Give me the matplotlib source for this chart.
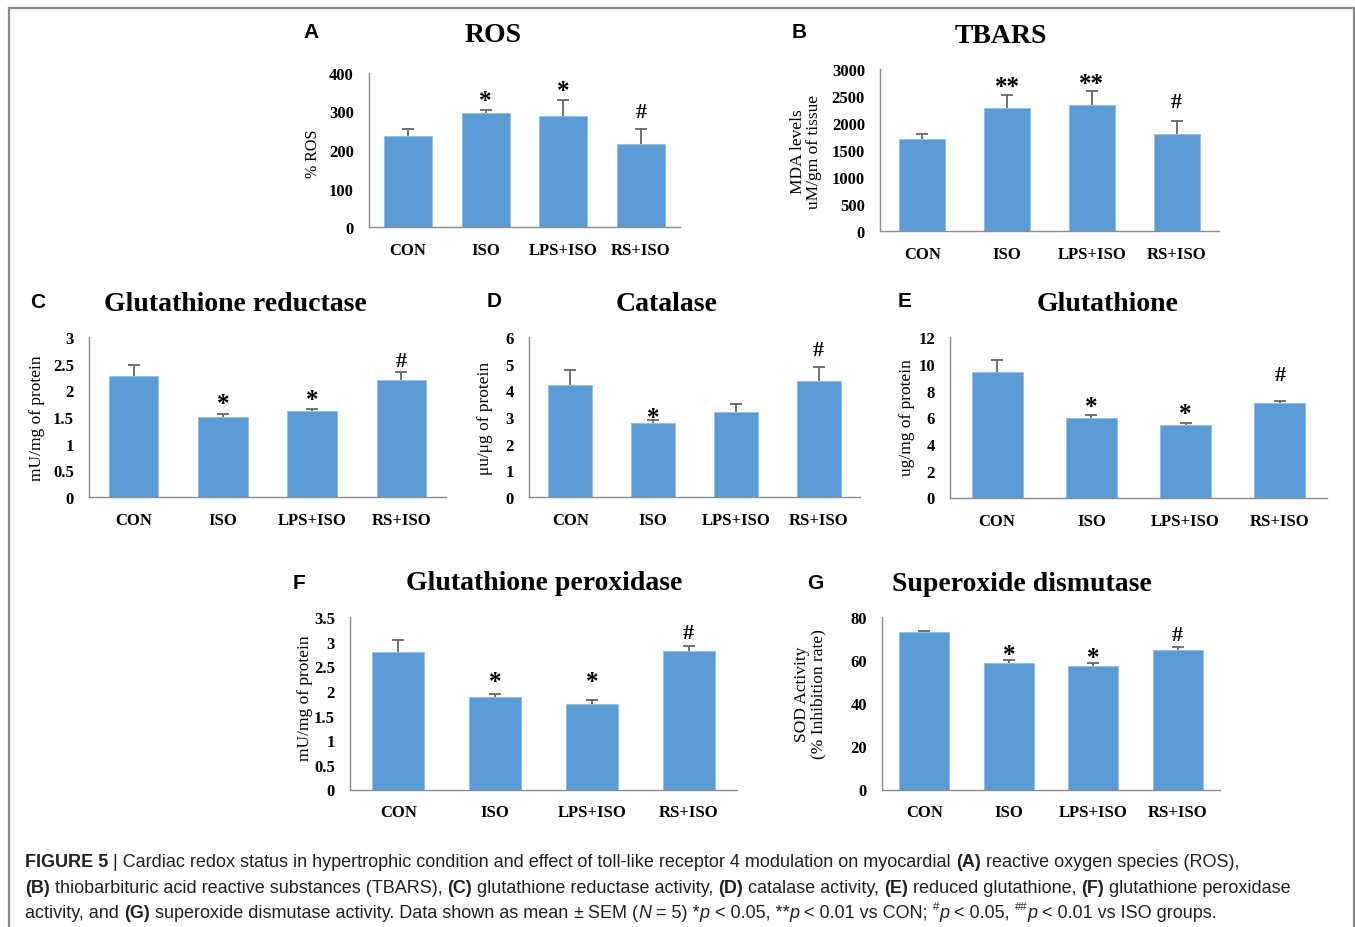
import matplotlib
matplotlib.use("Agg")
import matplotlib.pyplot as plt
from matplotlib import font_manager
from matplotlib.lines import Line2D
import numpy as np

W, H = 1355, 928

# ---------------- data ----------------
categories = ['CON', 'ISO', 'LPS+ISO', 'RS+ISO']

ros_mean = [236, 297, 288, 216]
ros_sem = [19, 6, 43, 39]
ros_marks = ['', '*', '*', '#']
ros_mark_y = [None, 345, 371, 306]

tbars_mean = [1700, 2285, 2334, 1804]
tbars_sem = [93, 229, 254, 229]
tbars_marks = ['', '**', '**', '#']
tbars_mark_y = [None, 2783, 2846, 2445]

gr_mean = [2.26, 1.505, 1.605, 2.19]
gr_sem = [0.22, 0.055, 0.045, 0.15]
gr_marks = ['', '*', '*', '#']
gr_mark_y = [None, 1.875, 1.94, 2.59]

cat_mean = [4.21, 2.76, 3.20, 4.34]
cat_sem = [0.56, 0.14, 0.29, 0.53]
cat_marks = ['', '*', '', '#']
cat_mark_y = [None, 3.19, None, 5.62]

gsh_mean = [9.38, 5.94, 5.41, 7.06]
gsh_sem = [0.87, 0.22, 0.15, 0.12]
gsh_marks = ['', '*', '*', '#']
gsh_mark_y = [None, 7.26, 6.76, 9.38]

gpx_mean = [2.80, 1.87, 1.74, 2.82]
gpx_sem = [0.24, 0.07, 0.08, 0.09]
gpx_marks = ['', '*', '*', '#']
gpx_mark_y = [None, 2.31, 2.31, 3.23]

sod_mean = [72.9, 58.6, 57.1, 64.8]
sod_sem = [0.6, 1.6, 1.5, 1.3]
sod_marks = ['', '*', '*', '#']
sod_mark_y = [None, 65.3, 64.2, 73.0]

panels = [
    dict(letter='A', title='ROS', ylabel='% ROS', mean=ros_mean, sem=ros_sem,
         marks=ros_marks, mark_y=ros_mark_y, ymax=400, ystep=100),
    dict(letter='B', title='TBARS', ylabel='MDA levels\nuM/gm of tissue', mean=tbars_mean,
         sem=tbars_sem, marks=tbars_marks, mark_y=tbars_mark_y, ymax=3000, ystep=500),
    dict(letter='C', title='Glutathione reductase', ylabel='mU/mg of protein', mean=gr_mean,
         sem=gr_sem, marks=gr_marks, mark_y=gr_mark_y, ymax=3, ystep=0.5),
    dict(letter='D', title='Catalase', ylabel='\u03bcu/\u03bcg of protein', mean=cat_mean,
         sem=cat_sem, marks=cat_marks, mark_y=cat_mark_y, ymax=6, ystep=1),
    dict(letter='E', title='Glutathione', ylabel='ug/mg of protein', mean=gsh_mean,
         sem=gsh_sem, marks=gsh_marks, mark_y=gsh_mark_y, ymax=12, ystep=2),
    dict(letter='F', title='Glutathione peroxidase', ylabel='mU/mg of protein', mean=gpx_mean,
         sem=gpx_sem, marks=gpx_marks, mark_y=gpx_mark_y, ymax=3.5, ystep=0.5),
    dict(letter='G', title='Superoxide dismutase', ylabel='SOD Activity\n(% Inhibition rate)',
         mean=sod_mean, sem=sod_sem, marks=sod_marks, mark_y=sod_mark_y, ymax=80, ystep=20),
]

# ---------------- layout (pixels) ----------------
layout = {
    'A': dict(box=(369, 680, 228, 74), bw=0.62, title=(493, 42), letter=(303, 38), ylab=(313, 154), ylfs=11.5),
    'B': dict(box=(880, 1219, 232, 70), bw=0.54, title=(1001, 43), letter=(792, 38), ylab=(806, 152), ylfs=12.5),
    'C': dict(box=(89, 446, 498, 338), bw=0.556, title=(235, 311), letter=(30, 308), ylab=(37, 418), ylfs=12.5),
    'D': dict(box=(529, 860, 498, 338), bw=0.53, title=(667, 311), letter=(487, 307), ylab=(485, 418), ylfs=12.5),
    'E': dict(box=(950, 1327, 498.5, 338), bw=0.54, title=(1108, 311), letter=(898, 307), ylab=(907, 418), ylfs=12.5),
    'F': dict(box=(350, 737, 790.5, 618), bw=0.54, title=(544, 590), letter=(293, 589), ylab=(305, 698), ylfs=12.5),
    'G': dict(box=(882, 1220, 790.5, 618), bw=0.59, title=(1022, 591), letter=(807, 589), ylab=(810, 694), ylfs=12.5),
}

BAR = '#5B9BD5'
ERR = '#666666'
SPINE = '#8c8c8c'
SERIF = ['Liberation Serif', 'DejaVu Serif']
SANS = ['Liberation Sans', 'DejaVu Sans']

fig = plt.figure(figsize=(W / 100, H / 100), dpi=100)
fig.patch.set_facecolor('white')


def fx(x):
    return x / W


def fy(y):
    return 1 - y / H


x = np.arange(len(categories))
for p in panels:
    L = layout[p['letter']]
    l, r, y0, y1 = L['box']
    ax = fig.add_axes([fx(l), fy(y0), (r - l) / W, (y0 - y1) / H])
    ax.bar(x, p['mean'], width=L['bw'], color=BAR, edgecolor='#8fbce6', linewidth=0.6, zorder=2)
    eb = ax.errorbar(x, p['mean'], yerr=[np.zeros(len(x)), p['sem']], fmt='none',
                     ecolor=ERR, elinewidth=1.3, capsize=4.5, capthick=1.3, zorder=3)
    if len(eb[1]) >= 2:
        eb[1][0].set_visible(False)
    ax.set_xlim(-0.5, 3.5)
    ax.set_ylim(0, p['ymax'])
    ticks = np.arange(0, p['ymax'] + p['ystep'] / 2, p['ystep'])
    ax.set_yticks(ticks)
    ax.set_yticklabels(['%g' % t for t in ticks])
    ax.set_xticks(x)
    ax.set_xticklabels(categories)
    for s in ['top', 'right']:
        ax.spines[s].set_visible(False)
    for s in ['left', 'bottom']:
        ax.spines[s].set_color(SPINE)
        ax.spines[s].set_linewidth(1.0)
    ax.tick_params(axis='both', length=0)
    ax.tick_params(axis='y', pad=10.8)
    ax.tick_params(axis='x', pad=10.8)
    for lab in ax.get_xticklabels() + ax.get_yticklabels():
        lab.set_family(SERIF)
        lab.set_fontweight('bold')
        lab.set_fontsize(12)
        lab.set_color('black')
    ax.patch.set_alpha(0)
    for xi, m, my in zip(x, p['marks'], p['mark_y']):
        if not m:
            continue
        if '*' in m:
            fs, off = 18, -0.5 * 18
        else:
            fs, off = 16, -0.34 * 16
        ax.annotate(m, (xi, my), xytext=(0, off), textcoords='offset points',
                    ha='center', va='baseline', fontsize=fs, family=SERIF,
                    fontweight='bold', color='black', zorder=4)
    tx, ty = L['title']
    fig.text(fx(tx), fy(ty), p['title'], ha='center', va='baseline', family=SERIF,
             fontweight='bold', fontsize=20, color='black')
    lx, ly = L['letter']
    fig.text(fx(lx), fy(ly), p['letter'], ha='left', va='baseline', family=SANS,
             fontweight='bold', fontsize=15, color='black')
    yx, yy = L['ylab']
    fig.text(fx(yx), fy(yy), p['ylabel'], ha='center', va='center', rotation=90,
             family=SERIF, fontsize=L['ylfs'], color='black', linespacing=1.05,
             multialignment='center')

# ---------------- frame ----------------
FR = '#8a8a8a'
fig.add_artist(Line2D([fx(8.5), fx(8.5)], [fy(8.5), 0], color=FR, lw=1.6))
fig.add_artist(Line2D([fx(8.5), fx(1353.5)], [fy(8.5), fy(8.5)], color=FR, lw=1.6))
fig.add_artist(Line2D([fx(1353.5), fx(1353.5)], [fy(8.5), 0], color=FR, lw=1.6))

# ---------------- caption ----------------
cap_family = ['DejaVu Sans']
for cand in ['Liberation Sans Narrow', 'Liberation Sans', 'DejaVu Sans']:
    try:
        font_manager.findfont(font_manager.FontProperties(family=cand), fallback_to_default=False)
        cap_family = [cand, 'DejaVu Sans']
        break
    except Exception:
        pass

caption_lines = [
    [("FIGURE 5", 'b'), (" | Cardiac redox status in hypertrophic condition and effect of toll-like receptor 4 modulation on myocardial ", 'r'),
     ("(A)", 'b'), (" reactive oxygen species (ROS),", 'r')],
    [("(B)", 'b'), (" thiobarbituric acid reactive substances (TBARS), ", 'r'), ("(C)", 'b'),
     (" glutathione reductase activity, ", 'r'), ("(D)", 'b'), (" catalase activity, ", 'r'),
     ("(E)", 'b'), (" reduced glutathione, ", 'r'), ("(F)", 'b'), (" glutathione peroxidase", 'r')],
    [("activity, and ", 'r'), ("(G)", 'b'), (" superoxide dismutase activity. Data shown as mean ", 'r'),
     ("\u00b1", 'r'), (" SEM (", 'r'), ("N", 'i'), (" = 5) *", 'r'), ("p", 'i'), (" < 0.05, **", 'r'),
     ("p", 'i'), (" < 0.01 vs CON; ", 'r'), ("#", 'sup'), ("p", 'i'), (" < 0.05, ", 'r'),
     ("##", 'sup'), ("p", 'i'), (" < 0.01 vs ISO groups.", 'r')],
]
cap_baselines = [867, 893, 918]
cap_x0 = 25
CAPC = '#231f20'

renderer = fig.canvas.get_renderer()


def style_kw(style, size):
    kw = dict(family=cap_family, fontsize=size, color=CAPC)
    if style == 'b':
        kw['fontweight'] = 'bold'
    elif style == 'i':
        kw['fontstyle'] = 'italic'
    elif style == 'sup':
        kw['fontsize'] = size * 0.62
    return kw


def text_w(s, kw):
    t = fig.text(0, 0, s, **kw)
    w = t.get_window_extent(renderer).width
    t.remove()
    return w


def run_w(s, kw):
    return text_w('|' + s + '|', kw) - text_w('||', kw)


base = 10.0
w1 = sum(run_w(s, style_kw(st, base)) for s, st in caption_lines[0])
cap_size = base * (1240 - cap_x0) / w1

for runs, yb in zip(caption_lines, cap_baselines):
    xp = cap_x0
    for s, st in runs:
        kw = style_kw(st, cap_size)
        dy = 0
        if st == 'sup':
            dy = cap_size * 0.45 * 100 / 72
        fig.text(fx(xp), fy(yb - dy), s, ha='left', va='baseline', **kw)
        xp += run_w(s, kw)

fig.savefig('out.png', dpi=100, facecolor='white')
